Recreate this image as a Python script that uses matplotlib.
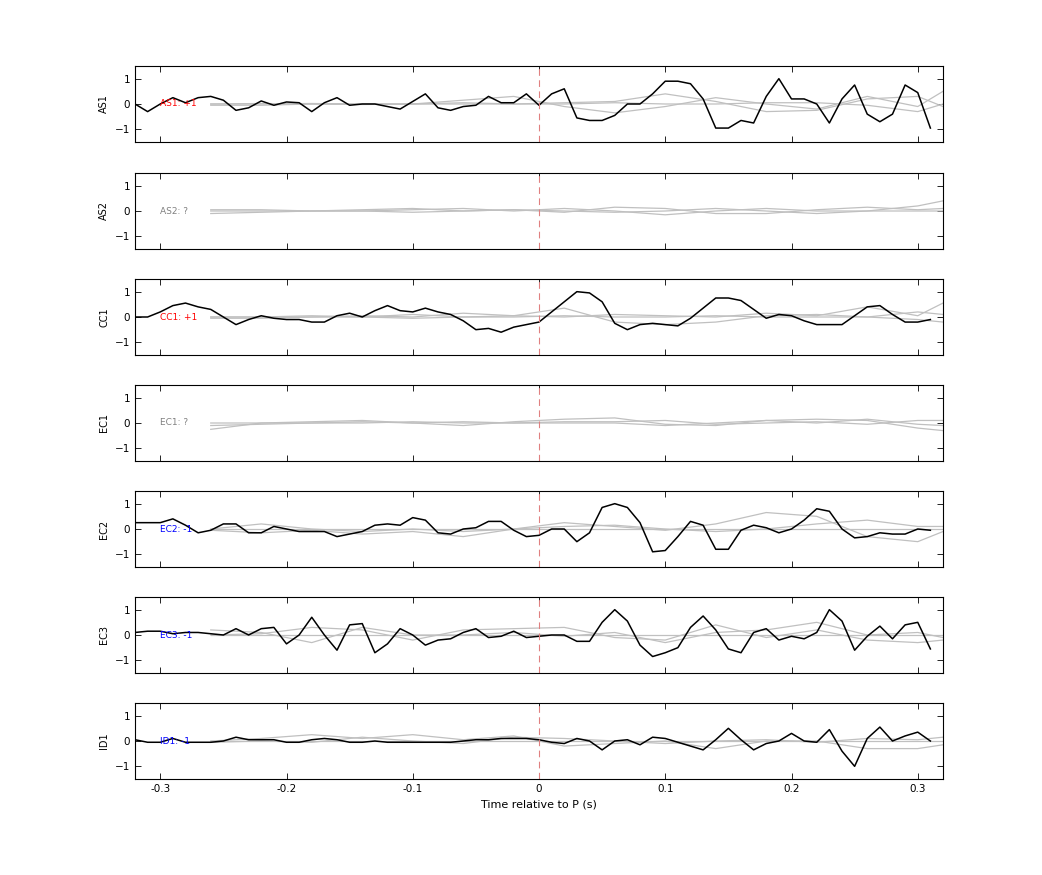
import numpy as np
import matplotlib
matplotlib.use("Agg")
import matplotlib.pyplot as plt

t = np.round(np.arange(-0.32, 0.315, 0.01), 2)
grey_t = [-0.26, -0.22, -0.18, -0.14, -0.10, -0.06, -0.02, 0.02, 0.06, 0.10, 0.14, 0.18, 0.22, 0.26, 0.30, 0.32]

stations = ["AS1", "AS2", "CC1", "EC1", "EC2", "EC3", "ID1"]
labels = ["AS1: +1", "AS2: ?", "CC1: +1", "EC1: ?", "EC2: -1", "EC3: -1", "ID1: -1"]
label_colors = ["red", "grey", "red", "grey", "blue", "blue", "blue"]

as1 = [0, -0.3, 0, 0.25, 0.05, 0.25, 0.3, 0.15, -0.25, -0.15, 0.12, -0.05, 0.08, 0.05, -0.3, 0.05,
       0.25, -0.05, 0, 0, -0.1, -0.2, 0.1, 0.4, -0.15, -0.25, -0.1, -0.05, 0.3, 0.05, 0.05, 0.4,
       -0.05, 0.4, 0.6, -0.55, -0.65, -0.65, -0.45, 0.0, 0.0, 0.4, 0.9, 0.9, 0.8, 0.2, -0.95, -0.95,
       -0.65, -0.75, 0.3, 1.0, 0.2, 0.2, 0, -0.75, 0.2, 0.75, -0.4, -0.7, -0.4, 0.75, 0.45, -0.95]
cc1 = [0, 0, 0.2, 0.45, 0.55, 0.4, 0.3, 0.0, -0.3, -0.1, 0.05, -0.05, -0.1, -0.1, -0.2, -0.2,
       0.05, 0.15, 0.0, 0.25, 0.45, 0.25, 0.2, 0.35, 0.2, 0.1, -0.15, -0.5, -0.45, -0.6, -0.4, -0.3,
       -0.2, 0.2, 0.6, 1.0, 0.95, 0.6, -0.25, -0.5, -0.3, -0.25, -0.3, -0.35, -0.05, 0.35, 0.75, 0.75,
       0.65, 0.3, -0.05, 0.1, 0.05, -0.15, -0.3, -0.3, -0.3, 0.05, 0.4, 0.45, 0.1, -0.2, -0.2, -0.1]
ec2 = [0.25, 0.25, 0.25, 0.4, 0.15, -0.15, -0.05, 0.2, 0.2, -0.15, -0.15, 0.1, 0.0, -0.1, -0.1, -0.1,
       -0.3, -0.2, -0.1, 0.15, 0.2, 0.15, 0.45, 0.35, -0.15, -0.2, 0.0, 0.05, 0.3, 0.3, -0.05, -0.3,
       -0.25, 0.0, 0.0, -0.5, -0.15, 0.85, 1.0, 0.85, 0.25, -0.9, -0.85, -0.3, 0.3, 0.15, -0.8, -0.8,
       -0.05, 0.15, 0.05, -0.15, 0.0, 0.35, 0.8, 0.7, 0.0, -0.35, -0.3, -0.15, -0.2, -0.2, 0.0, -0.05]
ec3 = [0.1, 0.15, 0.15, 0.05, 0.1, 0.1, 0.05, 0.0, 0.25, 0.0, 0.25, 0.3, -0.35, 0.0, 0.7, 0.0,
       -0.6, 0.4, 0.45, -0.7, -0.35, 0.25, 0.0, -0.4, -0.2, -0.15, 0.1, 0.25, -0.1, -0.05, 0.15, -0.1,
       -0.05, 0.0, 0.0, -0.25, -0.25, 0.5, 1.0, 0.55, -0.4, -0.85, -0.7, -0.5, 0.3, 0.75, 0.2, -0.55, -0.7,
       0.1, 0.25, -0.2, -0.05, -0.15, 0.1, 1.0, 0.55, -0.6, -0.05, 0.35, -0.15, 0.4, 0.5, -0.55]
id1 = [0.05, -0.05, -0.05, 0.1, -0.05, -0.05, -0.05, 0.0, 0.15, 0.05, 0.05, 0.05, -0.05, -0.05, 0.05, 0.1,
       0.05, -0.05, -0.05, 0.0, -0.05, -0.05, -0.05, -0.05, -0.05, -0.05, 0.0, 0.05, 0.05, 0.1, 0.1, 0.1,
       0.05, -0.05, -0.1, 0.1, 0.0, -0.35, 0.0, 0.05, -0.15, 0.15, 0.1, -0.05, -0.2, -0.35, 0.05, 0.5,
       0.05, -0.35, -0.1, 0.0, 0.3, 0.0, -0.05, 0.45, -0.4, -1.0, 0.1, 0.55, 0.0, 0.2, 0.35, 0.0]
black = {"AS1": as1, "CC1": cc1, "EC2": ec2, "EC3": ec3, "ID1": id1}

grey = {
    "AS1": [[0.0, 0.02, 0.0, -0.02, 0.0, 0.15, 0.3, -0.1, -0.35, -0.1, 0.25, 0.0, -0.2, 0.3, -0.1, 0.5],
            [0.0, 0.0, 0.02, 0.0, 0.0, 0.05, 0.0, 0.05, 0.1, 0.4, 0.1, -0.3, -0.25, 0.2, 0.3, -0.1],
            [-0.05, -0.05, 0.0, 0.0, 0.0, 0.0, 0.0, 0.0, 0.05, 0.0, 0.0, 0.05, 0.05, -0.05, -0.3, 0.0]],
    "AS2": [[-0.1, -0.05, 0.0, 0.0, 0.05, 0.1, 0.0, 0.1, 0.0, -0.15, 0.0, 0.1, 0.0, 0.0, 0.2, 0.4],
            [0.0, 0.0, 0.0, 0.05, 0.1, 0.0, 0.05, -0.05, 0.15, 0.1, -0.1, -0.1, 0.05, 0.15, 0.05, 0.1],
            [0.05, 0.05, 0.0, 0.0, -0.05, 0.0, 0.05, 0.0, -0.05, 0.0, 0.1, 0.0, -0.1, 0.0, 0.0, 0.0]],
    "CC1": [[0.0, 0.0, 0.05, 0.0, 0.1, 0.0, 0.05, 0.35, -0.2, -0.3, -0.2, 0.05, 0.1, 0.0, -0.1, -0.2],
            [0.0, 0.0, 0.0, 0.05, 0.0, 0.15, 0.05, 0.0, 0.1, 0.05, 0.0, 0.15, 0.05, 0.4, 0.05, 0.55],
            [-0.05, -0.05, 0.0, 0.0, -0.05, 0.0, 0.0, 0.05, 0.0, 0.0, 0.05, 0.0, 0.0, 0.0, 0.2, 0.1]],
    "EC1": [[-0.25, 0.0, 0.0, 0.05, 0.0, -0.1, 0.05, 0.15, 0.2, -0.05, -0.1, 0.1, 0.15, 0.1, -0.2, -0.3],
            [0.0, 0.0, 0.05, 0.1, 0.0, 0.05, 0.0, 0.05, 0.05, 0.1, -0.05, 0.0, 0.05, -0.05, 0.1, 0.1],
            [-0.1, -0.05, 0.0, 0.0, 0.05, 0.0, 0.0, 0.0, 0.0, -0.1, 0.0, 0.1, 0.0, 0.15, -0.05, -0.1]],
    "EC2": [[0.0, 0.2, 0.0, -0.1, 0.0, -0.1, 0.0, 0.25, 0.1, -0.05, 0.2, 0.65, 0.5, -0.3, -0.5, -0.1],
            [-0.05, -0.15, -0.05, -0.2, -0.1, -0.3, 0.0, 0.1, 0.15, 0.0, -0.1, 0.0, 0.2, 0.35, 0.1, 0.1],
            [0.0, 0.0, 0.0, 0.0, 0.0, 0.0, 0.0, 0.0, 0.0, 0.0, 0.0, 0.0, 0.0, 0.0, 0.0, 0.0]],
    "EC3": [[0.0, 0.05, 0.3, 0.2, -0.2, 0.2, 0.25, 0.3, -0.1, -0.2, 0.4, -0.1, 0.2, -0.2, -0.3, -0.2],
            [0.2, 0.1, -0.3, 0.3, 0.0, 0.0, 0.1, -0.05, 0.1, -0.3, 0.1, 0.2, 0.5, 0.0, 0.1, -0.1],
            [0.0, 0.0, 0.0, 0.0, 0.0, 0.0, 0.0, 0.0, 0.0, 0.0, 0.0, 0.0, 0.0, 0.0, 0.0, 0.0]],
    "ID1": [[0.0, 0.1, 0.25, 0.1, 0.25, 0.05, 0.2, -0.2, -0.1, 0.0, -0.3, 0.0, 0.0, -0.3, -0.3, -0.15],
            [-0.05, 0.0, -0.05, 0.15, 0.0, -0.1, 0.15, 0.1, 0.0, -0.1, 0.0, 0.05, -0.05, 0.1, 0.05, 0.15],
            [0.0, 0.0, 0.0, 0.0, 0.0, 0.0, 0.0, 0.0, 0.0, 0.0, 0.0, 0.0, 0.0, 0.0, 0.0, 0.0]],
}

fig = plt.figure(figsize=(10.42, 8.75), dpi=100)
W, H = 1042, 875
left, right = 135, 943
tops = [66, 173, 279, 385, 491, 597, 703]
ph = 76
for i, st in enumerate(stations):
    ax = fig.add_axes([left / W, 1 - (tops[i] + ph) / H, (right - left) / W, ph / H])
    for g in grey[st]:
        ax.plot(grey_t, g, color="#c0c0c0", lw=0.9)
    if st in black:
        ax.plot(t, black[st], color="black", lw=1.1)
    ax.axvline(0, color="#e08080", ls=(0, (6, 4)), lw=0.8)
    ax.text(-0.30, 0, labels[i], color=label_colors[i], fontsize=6.5, va="center", ha="left")
    ax.set_xlim(-0.32, 0.32)
    ax.set_ylim(-1.5, 1.5)
    ax.set_yticks([-1, 0, 1])
    ax.set_xticks([-0.3, -0.2, -0.1, 0, 0.1, 0.2, 0.3])
    ax.set_xticklabels(["-0.3", "-0.2", "-0.1", "0", "0.1", "0.2", "0.3"])
    ax.tick_params(direction="in", top=True, right=True, labelsize=7.5, length=4, width=0.6)
    for s in ax.spines.values():
        s.set_linewidth(0.8)
    ax.set_ylabel(st, fontsize=7)
    if i < len(stations) - 1:
        ax.tick_params(labelbottom=False)
    else:
        ax.set_xlabel("Time relative to P (s)", fontsize=8)

fig.savefig("out.png", dpi=100)
